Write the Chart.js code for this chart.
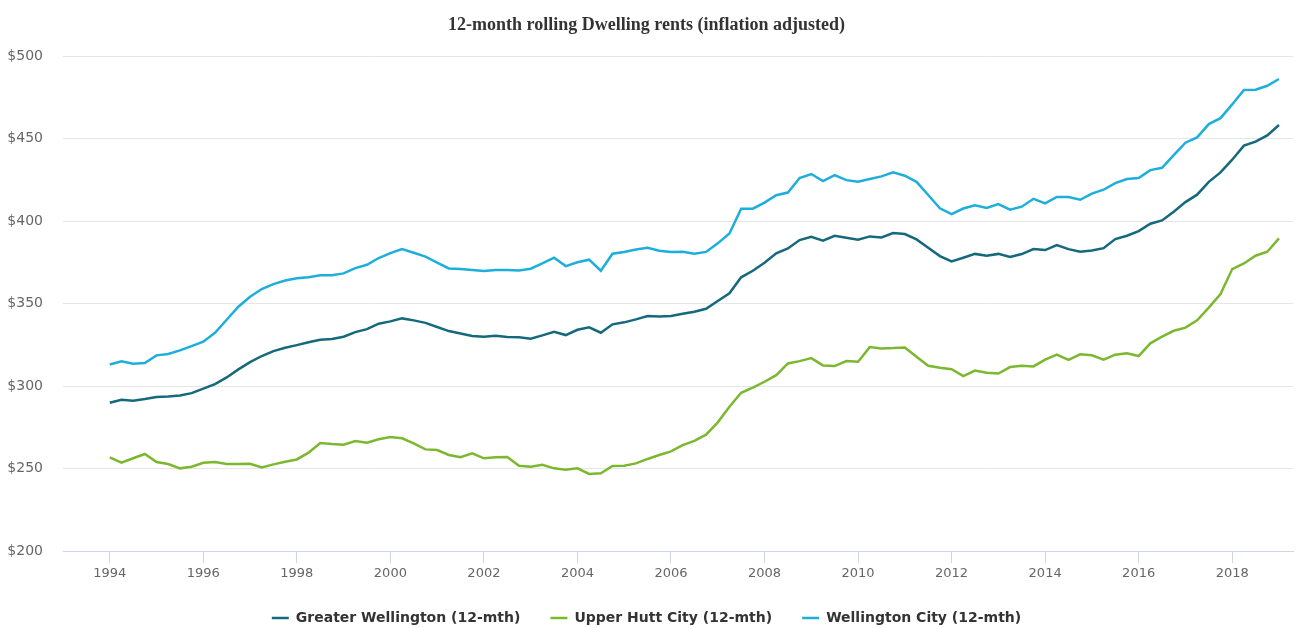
<!DOCTYPE html>
<html>
<head>
<meta charset="utf-8">
<script src="https://cdn.jsdelivr.net/npm/chart.js@4.4.1/dist/chart.umd.min.js"></script>
<style>
  html, body { margin: 0; padding: 0; background: #fff; }
  #wrap { width: 1297px; height: 628px; position: relative; }
</style>
</head>
<body>
<div id="wrap"><canvas id="c" width="1297" height="628"></canvas></div>
<script>
// Quarterly series, first quarter = 1994.0, last = 2019.0
const startYear = 1994;
const seriesNames = ['Greater Wellington (12-mth)', 'Upper Hutt City (12-mth)', 'Wellington City (12-mth)'];
const seriesColors = ['#15697c', '#7cb82f', '#1eaedb'];

const greaterWellington = [
  289.9, 291.7, 291.1, 292.1, 293.3, 293.7, 294.3, 295.7, 298.4, 301.2,
  305.2, 310.1, 314.5, 318.2, 321.2, 323.2, 324.8, 326.5, 328.1, 328.5,
  329.9, 332.7, 334.5, 337.8, 339.2, 341.0, 339.8, 338.3, 335.8, 333.3,
  331.9, 330.3, 329.9, 330.5, 329.7, 329.5, 328.7, 330.7, 332.9, 330.9,
  334.1, 335.6, 332.3, 337.4, 338.6, 340.4, 342.4, 342.2, 342.4, 343.8,
  345.0, 346.8, 351.5, 356.2, 365.9, 369.9, 374.7, 380.4, 383.4, 388.5,
  390.5, 388.1, 391.1, 389.9, 388.7, 390.7, 390.1, 392.7, 392.1, 388.9,
  383.8, 378.8, 375.5, 377.8, 380.1, 379.0, 380.1, 378.2, 380.0, 383.0,
  382.4, 385.5, 383.0, 381.4, 382.2, 383.6, 389.1, 391.1, 393.9, 398.4,
  400.4, 405.7, 411.5, 416.0, 423.8, 429.5, 437.2, 445.7, 448.1, 451.9,
  458.2
];
const upperHuttCity = [
  256.8, 253.5, 256.2, 258.8, 253.9, 252.7, 250.1, 251.1, 253.5, 253.9,
  252.7, 252.7, 252.9, 250.7, 252.5, 254.1, 255.5, 259.6, 265.5, 264.8,
  264.4, 266.7, 265.7, 267.7, 269.1, 268.3, 265.2, 261.6, 261.2, 258.2,
  256.8, 259.2, 256.2, 256.8, 257.0, 251.7, 251.1, 252.3, 250.1, 249.3,
  250.1, 246.7, 247.1, 251.5, 251.7, 253.1, 255.8, 258.2, 260.4, 264.2,
  266.7, 270.5, 278.0, 287.5, 295.9, 299.0, 302.6, 306.6, 313.7, 315.1,
  316.9, 312.5, 312.1, 315.1, 314.7, 323.6, 322.8, 323.0, 323.4, 317.8,
  312.3, 311.1, 310.2, 306.0, 309.4, 308.0, 307.6, 311.5, 312.3, 311.9,
  316.0, 319.0, 315.8, 319.2, 318.6, 316.0, 319.0, 319.8, 318.2, 325.9,
  329.9, 333.5, 335.4, 339.8, 347.5, 355.8, 370.9, 374.3, 379.0, 381.4,
  389.5
];
const wellingtonCity = [
  313.1, 315.0, 313.5, 313.9, 318.6, 319.4, 321.6, 324.2, 326.9, 332.3,
  340.2, 348.1, 354.1, 358.8, 361.8, 364.0, 365.3, 365.9, 367.1, 367.1,
  368.3, 371.5, 373.5, 377.6, 380.6, 383.0, 380.8, 378.5, 374.8, 371.3,
  370.9, 370.3, 369.7, 370.3, 370.3, 370.1, 371.1, 374.3, 377.8, 372.7,
  375.0, 376.6, 369.9, 380.2, 381.2, 382.8, 383.8, 382.0, 381.2, 381.4,
  380.2, 381.3, 386.5, 392.5, 407.5, 407.5, 411.2, 415.7, 417.3, 426.1,
  428.5, 424.2, 427.9, 424.8, 423.8, 425.5, 427.1, 429.5, 427.5, 423.8,
  415.8, 407.7, 404.2, 407.6, 409.6, 408.0, 410.3, 406.9, 408.7, 413.5,
  410.7, 414.6, 414.6, 412.9, 416.6, 419.0, 423.0, 425.5, 426.1, 430.9,
  432.3, 440.0, 447.5, 450.7, 458.8, 462.4, 470.7, 479.4, 479.6, 482.0,
  486.1
];
const xTickYears = [1994, 1996, 1998, 2000, 2002, 2004, 2006, 2008, 2010, 2012, 2014, 2016, 2018];
const yTickValues = [200, 250, 300, 350, 400, 450, 500];

const allSeries = [greaterWellington, upperHuttCity, wellingtonCity];
const toPoints = arr => arr.map((v, i) => ({ x: startYear + i / 4, y: v }));

const datasets = allSeries.map((arr, k) => ({
  label: seriesNames[k],
  data: toPoints(arr),
  borderColor: seriesColors[k],
  backgroundColor: seriesColors[k],
  borderWidth: 2.5,
  pointRadius: 0,
  pointHoverRadius: 0,
  tension: 0,
  fill: false
}));

const legendHeightPlugin = {
  id: 'legendHeight',
  beforeInit(chart) {
    const origFit = chart.legend.fit;
    chart.legend.fit = function () {
      origFit.call(this);
      this.height = 47;
    };
  }
};

new Chart(document.getElementById('c'), {
  type: 'line',
  data: { datasets },
  plugins: [legendHeightPlugin],
  options: {
    responsive: false,
    animation: false,
    events: [],
    layout: { padding: { left: 0, right: 4, top: 0, bottom: 0 } },
    plugins: {
      title: {
        display: true,
        text: '12-month rolling Dwelling rents (inflation adjusted)',
        color: '#333333',
        font: { family: 'Liberation Serif', size: 18, weight: 'bold' },
        padding: { top: 15, bottom: 19.5 }
      },
      legend: {
        position: 'bottom',
        labels: {
          color: '#333333',
          font: { family: 'DejaVu Sans', size: 14, weight: 'bold' },
          usePointStyle: true,
          pointStyle: 'line',
          pointStyleWidth: 17,
          boxWidth: 17,
          padding: 30
        }
      },
      tooltip: { enabled: false }
    },
    scales: {
      x: {
        type: 'linear',
        min: 1993,
        max: 2019.3,
        afterBuildTicks(scale) {
          scale.ticks = xTickYears.map(v => ({ value: v }));
        },
        afterFit(scale) { scale.height = 30; },
        ticks: {
          color: '#666666',
          font: { family: 'DejaVu Sans', size: 13 },
          padding: 3,
          maxRotation: 0,
          autoSkip: false,
          callback: v => String(v)
        },
        grid: {
          display: true,
          drawOnChartArea: false,
          drawTicks: true,
          tickLength: 12,
          color: '#ccd6eb'
        },
        border: { display: true, color: '#ccd6eb', width: 1 }
      },
      y: {
        type: 'linear',
        min: 200,
        max: 500,
        afterBuildTicks(scale) {
          scale.ticks = yTickValues.map(v => ({ value: v }));
        },
        afterFit(scale) { scale.width = 63; },
        ticks: {
          color: '#666666',
          font: { family: 'DejaVu Sans', size: 14 },
          padding: 20,
          callback: v => '$' + v
        },
        grid: {
          color: '#e6e6e6',
          drawTicks: false,
          tickLength: 0
        },
        border: { display: false }
      }
    }
  }
});
</script>
</body>
</html>
